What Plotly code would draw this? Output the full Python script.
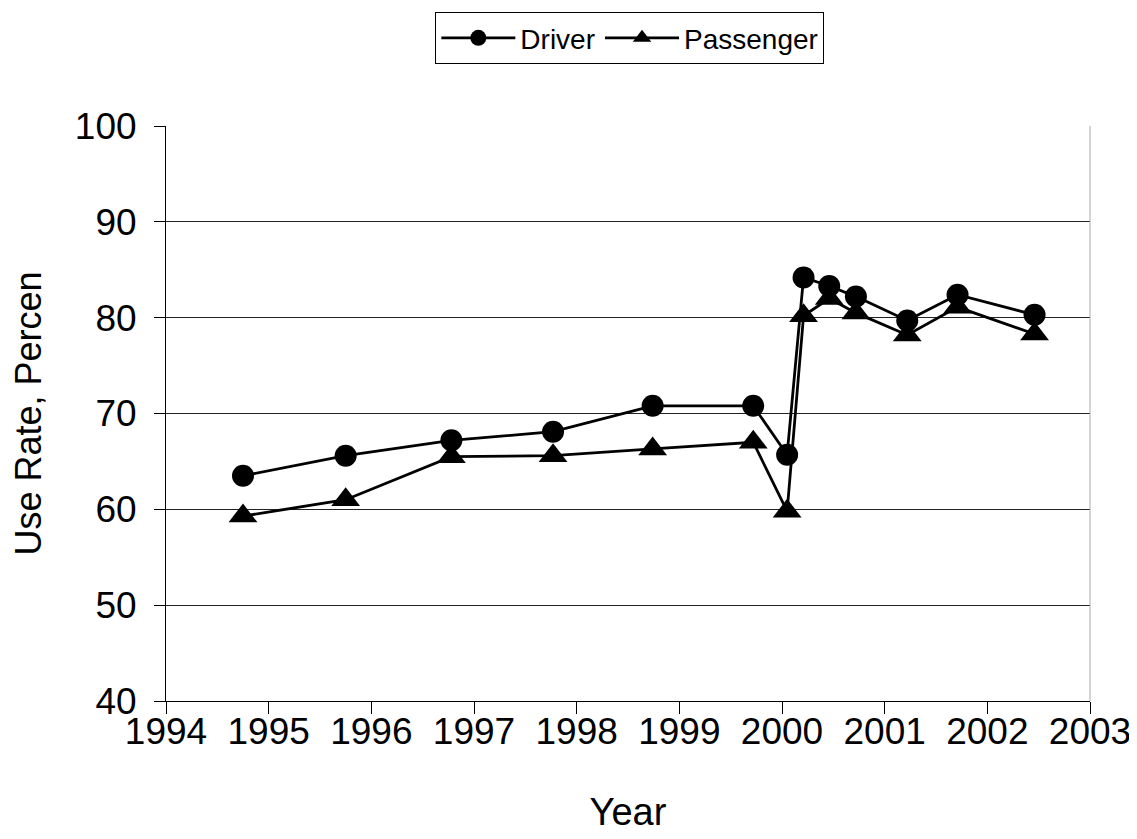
import plotly.graph_objects as go

# Data
driver_year = [1994.75, 1995.75, 1996.78, 1997.77, 1998.74, 1999.72, 2000.05,
               2000.21, 2000.46, 2000.72, 2001.22, 2001.71, 2002.46]
driver_rate = [63.5, 65.6, 67.2, 68.1, 70.8, 70.8, 65.7,
               84.2, 83.3, 82.2, 79.7, 82.4, 80.3]

passenger_year = driver_year
passenger_rate = [59.3, 61.0, 65.5, 65.6, 66.3, 67.0, 59.8,
                  80.2, 82.0, 80.5, 78.2, 81.1, 78.3]

year_ticks = list(range(1994, 2004))
rate_ticks = [40, 50, 60, 70, 80, 90, 100]

FONT = "Liberation Sans, Arial, sans-serif"

fig = go.Figure()

fig.add_trace(go.Scatter(
    x=passenger_year, y=passenger_rate, name="Passenger", mode="lines+markers",
    line=dict(color="black", width=2.8),
    marker=dict(symbol="triangle-up", size=25, color="black"),
    legendrank=2,
))
fig.add_trace(go.Scatter(
    x=driver_year, y=driver_rate, name="Driver", mode="lines+markers",
    line=dict(color="black", width=2.8),
    marker=dict(symbol="circle", size=22, color="black"),
    legendrank=1,
))

fig.update_layout(
    width=1129, height=831,
    margin=dict(l=158, r=47, t=118, b=138, autoexpand=False),
    paper_bgcolor="white", plot_bgcolor="white",
    font=dict(family=FONT, color="black"),
    showlegend=True,
    legend=dict(
        orientation="h", x=0.502, xanchor="center", y=1.198, yanchor="top",
        bordercolor="black", borderwidth=1, bgcolor="white",
        font=dict(size=28, family=FONT, color="black"),
        itemwidth=74, tracegroupgap=0,
    ),
    xaxis=dict(
        range=[1994, 2003], tickmode="array", tickvals=year_ticks,
        ticktext=[str(y) for y in year_ticks],
        showgrid=False, zeroline=False, automargin=False,
        showline=True, linecolor="black", linewidth=1,
        ticks="outside", ticklen=12, tickcolor="black", tickwidth=1,
        ticklabelstandoff=-14,
        tickfont=dict(size=37, family=FONT, color="black"),
        title=dict(text="Year", font=dict(size=38, family=FONT, color="black"), standoff=46),
    ),
    yaxis=dict(
        range=[40, 100], tickmode="array", tickvals=rate_ticks,
        showgrid=True, gridcolor="#222222", gridwidth=1, zeroline=False,
        automargin=False,
        showline=True, linecolor="black", linewidth=1,
        ticks="outside", ticklen=11, tickcolor="black", tickwidth=1,
        ticklabelstandoff=10,
        tickfont=dict(size=37, family=FONT, color="black"),
        title=dict(text="Use Rate, Percen", font=dict(size=36, family=FONT, color="black"), standoff=40),
    ),
    shapes=[dict(type="line", xref="paper", yref="paper", x0=1, x1=1, y0=0, y1=1,
                 line=dict(color="#aaaaaa", width=1))],
)

fig.write_html("out.html")
